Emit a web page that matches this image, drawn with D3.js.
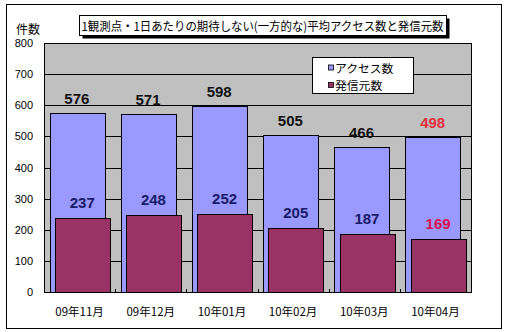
<!DOCTYPE html>
<html>
<head>
<meta charset="utf-8">
<script src="https://cdn.jsdelivr.net/npm/d3@7"></script>
<style>
  html, body { margin: 0; padding: 0; background: #fff; }
  svg { display: block; }
</style>
</head>
<body>
<svg id="chart" width="511" height="332"></svg>
<script>
// Monthly figures per observation point per day
const categories = ["09年11月", "09年12月", "10年01月", "10年02月", "10年03月", "10年04月"];
const accessCounts = [576, 571, 598, 505, 466, 498];
const sourceCounts = [237, 248, 252, 205, 187, 169];
const yTicks = [0, 100, 200, 300, 400, 500, 600, 700, 800];
const seriesNames = ["アクセス数", "発信元数"];
const titleText = "1観測点・1日あたりの期待しない(一方的な)平均アクセス数と発信元数";
const yAxisTitle = "件数";

const svg = d3.select("#chart");
const jp = "'Noto Sans CJK JP', 'Noto Sans', sans-serif";
const num = "'Liberation Sans', Arial, sans-serif";

const colAccess = "#9999FF";
const colSource = "#993366";
const plotBg = "#C0C0C0";

const plot = { left: 44, right: 471, top: 43, bottom: 292 };

// outer chart frame
svg.append("rect")
  .attr("x", 6.5).attr("y", 4.5)
  .attr("width", 495).attr("height", 324)
  .attr("fill", "#fff").attr("stroke", "#000").attr("stroke-width", 1);

const x = d3.scaleBand()
  .domain(categories)
  .range([plot.left, plot.right])
  .paddingInner(0.155)
  .paddingOuter(0.0775);

const y = d3.scaleLinear()
  .domain([0, 800])
  .range([plot.bottom, plot.top]);

// plot area background
svg.append("rect")
  .attr("x", plot.left).attr("y", plot.top)
  .attr("width", plot.right - plot.left).attr("height", plot.bottom - plot.top)
  .attr("fill", plotBg);

// horizontal gridlines
svg.append("g")
  .selectAll("line")
  .data(yTicks)
  .join("line")
  .attr("x1", plot.left).attr("x2", plot.right)
  .attr("y1", d => Math.round(y(d)) + 0.5)
  .attr("y2", d => Math.round(y(d)) + 0.5)
  .attr("stroke", "#000").attr("stroke-width", 1);

// y axis tick labels
const yAxis = d3.axisLeft(y).tickValues(yTicks).tickSize(0).tickPadding(11);
const gy = svg.append("g")
  .attr("transform", `translate(${plot.left},0)`)
  .call(yAxis);
gy.select(".domain").remove();
gy.selectAll("text")
  .attr("font-family", num)
  .attr("font-size", 11)
  .attr("fill", "#000");

// y axis title
svg.append("text")
  .attr("x", 16).attr("y", 34)
  .attr("font-family", jp).attr("font-size", 12)
  .attr("fill", "#000")
  .text(yAxisTitle);

const bw = x.bandwidth();
const barW = bw * 0.91;
const shift = bw - barW;

// access bars (behind)
svg.append("g")
  .selectAll("rect")
  .data(categories)
  .join("rect")
  .attr("x", d => Math.round(x(d)) + 0.5)
  .attr("y", (d, i) => Math.round(y(accessCounts[i])) + 0.5)
  .attr("width", Math.round(barW))
  .attr("height", (d, i) => Math.round(y(0)) - Math.round(y(accessCounts[i])))
  .attr("fill", colAccess)
  .attr("stroke", "#000").attr("stroke-width", 1);

// source bars (front, overlapping)
svg.append("g")
  .selectAll("rect")
  .data(categories)
  .join("rect")
  .attr("x", d => Math.round(x(d) + shift) + 0.5)
  .attr("y", (d, i) => Math.round(y(sourceCounts[i])) + 0.5)
  .attr("width", Math.round(barW))
  .attr("height", (d, i) => Math.round(y(0)) - Math.round(y(sourceCounts[i])))
  .attr("fill", colSource)
  .attr("stroke", "#000").attr("stroke-width", 1);

// plot border
svg.append("rect")
  .attr("x", plot.left + 0.5).attr("y", plot.top + 0.5)
  .attr("width", plot.right - plot.left).attr("height", plot.bottom - plot.top)
  .attr("fill", "none").attr("stroke", "#000").attr("stroke-width", 1);

// category tick marks along the baseline
const boundaries = d3.range(categories.length + 1).map(i => plot.left + i * x.step());
svg.append("g")
  .selectAll("line")
  .data(boundaries)
  .join("line")
  .attr("x1", d => Math.round(d) + 0.5).attr("x2", d => Math.round(d) + 0.5)
  .attr("y1", plot.bottom).attr("y2", plot.bottom - 3)
  .attr("stroke", "#000");

// category labels
svg.append("g")
  .selectAll("text")
  .data(categories)
  .join("text")
  .attr("x", d => x(d) + bw / 2)
  .attr("y", 316)
  .attr("text-anchor", "middle")
  .attr("font-family", jp).attr("font-size", 11.5)
  .attr("fill", "#000")
  .text(d => d);

// value labels: access
const last = categories.length - 1;
svg.append("g")
  .selectAll("text")
  .data(categories)
  .join("text")
  .attr("x", d => x(d) + barW / 2)
  .attr("y", (d, i) => y(accessCounts[i]) - 9)
  .attr("text-anchor", "middle")
  .attr("font-family", num).attr("font-size", 15).attr("font-weight", "bold")
  .attr("fill", (d, i) => i === last ? "#E0303F" : "#111")
  .text((d, i) => accessCounts[i]);

// value labels: sources
svg.append("g")
  .selectAll("text")
  .data(categories)
  .join("text")
  .attr("x", d => x(d) + shift + barW / 2)
  .attr("y", (d, i) => y(sourceCounts[i]) - 10)
  .attr("text-anchor", "middle")
  .attr("font-family", num).attr("font-size", 15).attr("font-weight", "bold")
  .attr("fill", (d, i) => i === last ? "#D81048" : "#1A1A66")
  .text((d, i) => sourceCounts[i]);

// legend
const lg = svg.append("g");
lg.append("rect")
  .attr("x", 312.5).attr("y", 57.5)
  .attr("width", 101).attr("height", 36)
  .attr("fill", "#fff").attr("stroke", "#000");
const legendColors = [colAccess, colSource];
seriesNames.forEach((name, i) => {
  const cy = 68.5 + i * 17.5;
  lg.append("rect")
    .attr("x", 328.5).attr("y", cy - 3.5)
    .attr("width", 5).attr("height", 5)
    .attr("fill", legendColors[i]).attr("stroke", "#000").attr("stroke-width", 0.8);
  lg.append("text")
    .attr("x", 335).attr("y", cy + 4.2)
    .attr("font-family", jp).attr("font-size", 11.8)
    .attr("fill", "#000")
    .text(name);
});

// title box with drop shadow
const tb = { x: 79.5, y: 15.5, w: 367, h: 20 };
svg.append("rect")
  .attr("x", tb.x + 3).attr("y", tb.y + 3)
  .attr("width", tb.w).attr("height", tb.h)
  .attr("fill", "#000");
svg.append("rect")
  .attr("x", tb.x).attr("y", tb.y)
  .attr("width", tb.w).attr("height", tb.h)
  .attr("fill", "#fff").attr("stroke", "#000");
svg.append("text")
  .attr("x", tb.x + 2).attr("y", tb.y + 15)
  .attr("font-family", jp).attr("font-size", 12)
  .attr("textLength", 362).attr("lengthAdjust", "spacingAndGlyphs")
  .attr("fill", "#000")
  .text(titleText);
</script>
</body>
</html>
